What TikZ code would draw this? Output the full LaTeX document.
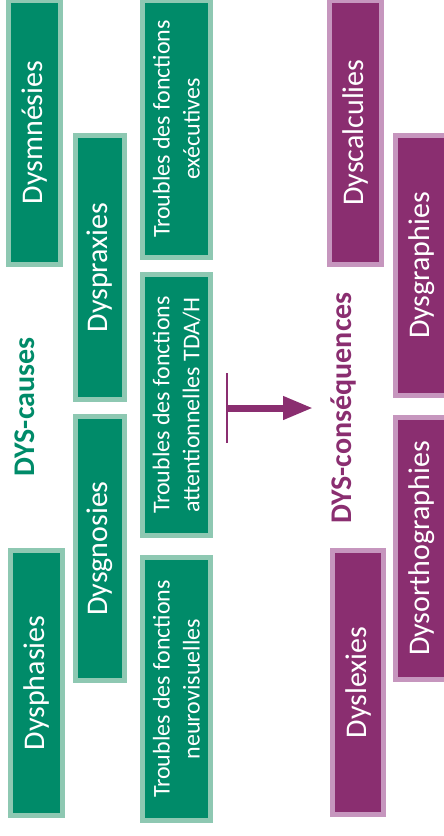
\documentclass[tikz,border=0pt]{standalone}
\usepackage{fontspec}
\setmainfont{Carlito}
\usetikzlibrary{arrows.meta}
\definecolor{greenD}{RGB}{0,139,105}
\definecolor{greenL}{RGB}{142,200,178}
\definecolor{purpD}{RGB}{138,46,112}
\definecolor{purpL}{RGB}{198,150,190}
\tikzset{
  dysbox/.style={rotate=90, line width=5pt, text=white, align=center, inner sep=0pt,
     font=\fontsize{30}{36}\selectfont},
  causebox/.style={dysbox, draw=greenL, fill=greenD},
  consbox/.style={dysbox, draw=purpL, fill=purpD},
  twoline/.style={font=\fontsize{24}{30}\selectfont},
  title/.style={rotate=90, font=\fontsize{30}{36}\selectfont\bfseries},
}
\begin{document}
\begin{tikzpicture}[x=1pt,y=-1pt]
\useasboundingbox (0,0) rectangle (444,836);
% causes
\node[causebox, minimum width=264pt, minimum height=52pt] (dysmnesies) at (34.5,132.5) {Dysmnésies};
\node[causebox, twoline, minimum width=257pt, minimum height=68pt] (executives) at (176.5,129) {Troubles des fonctions\\exécutives};
\node[causebox, minimum width=264pt, minimum height=49pt] (dyspraxies) at (100,267.5) {Dyspraxies};
\node[causebox, twoline, minimum width=261pt, minimum height=68pt] (tdah) at (176.5,405) {Troubles des fonctions\\attentionnelles TDA/H};
\node[causebox, minimum width=264pt, minimum height=49pt] (dysgnosies) at (100,548.5) {Dysgnosies};
\node[causebox, minimum width=265pt, minimum height=52pt] (dysphasies) at (36.5,683) {Dysphasies};
\node[causebox, twoline, minimum width=263pt, minimum height=68pt] (neuro) at (176.5,689) {Troubles des fonctions\\neurovisuelles};
\node[title, text=greenD] (causes) at (25,407) {DYS-causes};
% consequences
\node[consbox, minimum width=264pt, minimum height=52pt] (dyscalculies) at (355.5,132.5) {Dyscalculies};
\node[consbox, minimum width=260pt, minimum height=52pt] (dysgraphies) at (421.5,265.5) {Dysgraphies};
\node[consbox, minimum width=262pt, minimum height=52pt] (dysortho) at (421.5,548.5) {Dysorthographies};
\node[consbox, minimum width=264pt, minimum height=51pt] (dyslexies) at (358,682.5) {Dyslexies};
\node[title, text=purpD] (consequences) at (343,408) {DYS-conséquences};
% arrow
\coordinate (barTop) at (227,373);
\coordinate (barBot) at (227,443);
\coordinate (arrTip) at (313,408);
\coordinate (arrStart) at (227,408);
\draw[purpD, line width=2pt] (barTop) -- (barBot);
\draw[purpD, line width=7pt, -{Triangle[length=30pt,width=22pt]}] (arrStart) -- (arrTip);
\end{tikzpicture}
\end{document}
